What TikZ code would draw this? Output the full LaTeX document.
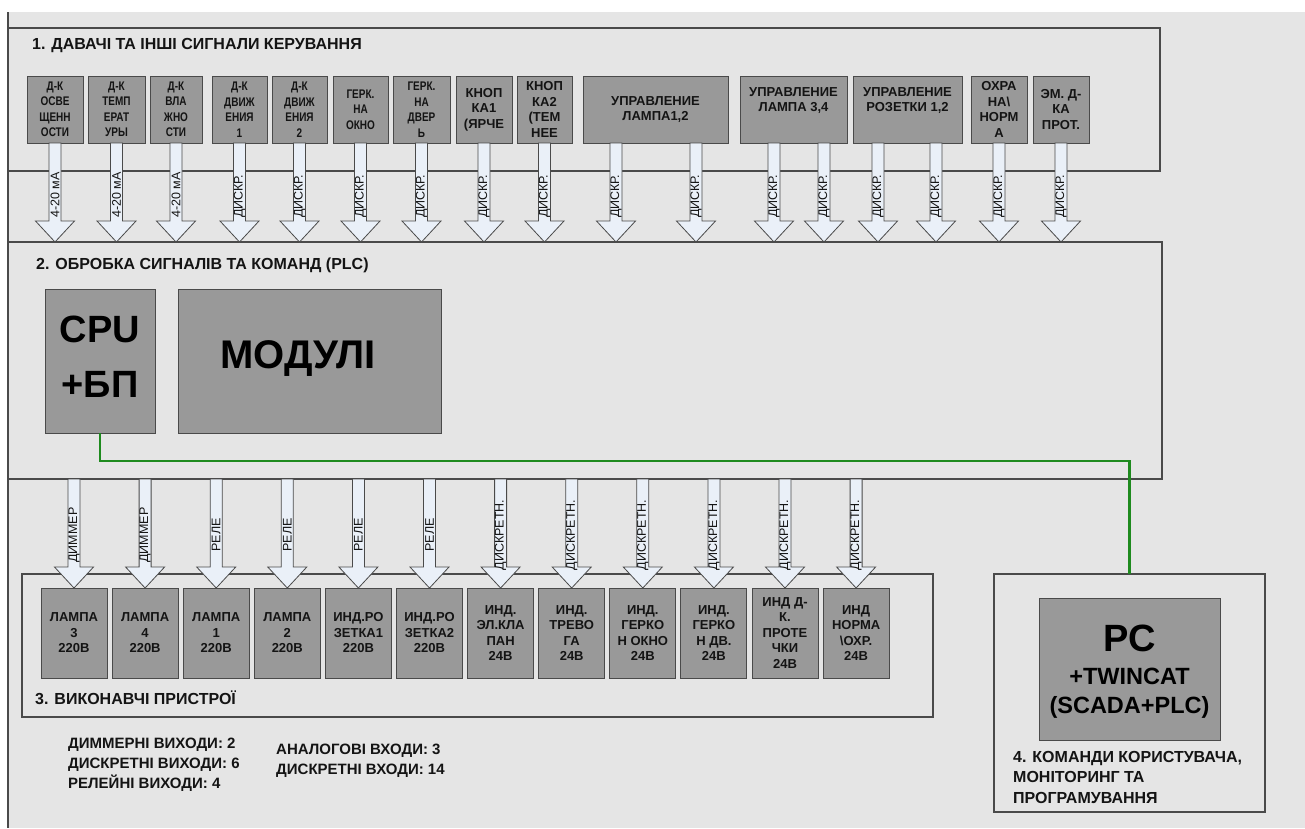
\documentclass[tikz,border=0pt]{standalone}
\usepackage{fontspec}
\setmainfont{Liberation Sans}
\newfontfamily\condf[FakeStretch=0.8]{Liberation Sans}
\usetikzlibrary{calc}
\definecolor{bg}{HTML}{E5E5E5}
\definecolor{boxfill}{HTML}{999999}
\definecolor{edge}{HTML}{4A4A4A}
\definecolor{arrfill}{HTML}{EAF0F8}
\definecolor{wire}{HTML}{1E8A1E}
\definecolor{txt}{HTML}{141414}
\tikzset{
  sect/.style={draw=edge, line width=1.5pt, inner sep=0pt, outer sep=0pt},
  tbox/.style={draw=edge, fill=boxfill, line width=1pt, inner sep=0pt, outer sep=0pt, align=center, text=txt, minimum height=67},
  tcond/.style={tbox, font=\condf\bfseries\fontsize{12.5}{15.5}\selectfont},
  twide/.style={tbox, font=\bfseries\fontsize{13}{15.5}\selectfont},
  bbox/.style={draw=edge, fill=boxfill, line width=1pt, inner sep=0pt, outer sep=0pt, align=center, text=txt, minimum width=66, minimum height=90, font=\bfseries\fontsize{13}{15.5}\selectfont},
  bigbox/.style={draw=edge, fill=boxfill, line width=1pt, inner sep=0pt, outer sep=0pt, align=center, text=black},
  blk/.style={draw=edge, fill=arrfill, line width=0.8pt, line join=miter},
  alab/.style={rotate=90, inner sep=0pt, text=txt, font=\fontsize{12.5}{14}\selectfont},
  ttl/.style={anchor=west, inner sep=0pt, text=txt, font=\bfseries\fontsize{16}{20.5}\selectfont, align=left},
  info/.style={anchor=west, inner sep=0pt, text=txt, font=\bfseries\fontsize{15}{20}\selectfont, align=left},
  bigtxt/.style={inner sep=0pt, text=black, align=center},
  wireline/.style={draw=wire, line width=2.6pt}
}
\newcommand\blkarrow[2]{%
  \filldraw[blk] let \p1=(#1), \p2=(#2) in
   (\x1-6pt,\y1) -- (\x1+6pt,\y1) -- (\x1+6pt,\y2+21pt) -- (\x1+19.5pt,\y2+21pt)
   -- (\x1,\y2) -- (\x1-19.5pt,\y2+21pt) -- (\x1-6pt,\y2+21pt) -- cycle;}
\begin{document}
\begin{tikzpicture}[x=1pt,y=-1pt]
\useasboundingbox (0,0) rectangle (1305,828);
\fill[white] (0,0) rectangle (1305,828);
\fill[bg] (8,12) rectangle (1305,828);
\draw[edge, line width=1.5pt] (8,12) -- (8,828);

% sections
\node[sect, anchor=north west, minimum width=1152, minimum height=143] (s1) at (8,28) {};
\node[sect, anchor=north west, minimum width=1154, minimum height=237] (s2) at (8,242) {};
\node[sect, anchor=north west, minimum width=911, minimum height=143] (s3) at (22,574) {};
\node[sect, anchor=north west, minimum width=271, minimum height=238] (s4) at (994,574) {};

\node[ttl] (t1ttl) at (32,46) {1. ДАВАЧІ ТА ІНШІ СИГНАЛИ КЕРУВАННЯ};
\node[ttl] (t2ttl) at (36,265) {2. ОБРОБКА СИГНАЛІВ ТА КОМАНД (PLC)};
\node[ttl] (t3ttl) at (35,698) {3. ВИКОНАВЧІ ПРИСТРОЇ};
\node[ttl] (t4ttl) at (1013,777) {4. КОМАНДИ КОРИСТУВАЧА,\\МОНІТОРИНГ ТА\\ПРОГРАМУВАННЯ};

% top boxes
\node[tcond, minimum width=56] (t1) at (55,109.5) {Д-К\\ОСВЕ\\ЩЕНН\\ОСТИ};
\node[tcond, minimum width=57] (t2) at (116.5,109.5) {Д-К\\ТЕМП\\ЕРАТ\\УРЫ};
\node[tcond, minimum width=52] (t3) at (176,109.5) {Д-К\\ВЛА\\ЖНО\\СТИ};
\node[tcond, minimum width=55] (t4) at (239.5,109.5) {Д-К\\ДВИЖ\\ЕНИЯ\\1};
\node[tcond, minimum width=55] (t5) at (299.5,109.5) {Д-К\\ДВИЖ\\ЕНИЯ\\2};
\node[tcond, minimum width=55] (t6) at (360.5,109.5) {ГЕРК.\\НА\\ОКНО};
\node[tcond, minimum width=57] (t7) at (421.5,109.5) {ГЕРК.\\НА\\ДВЕР\\Ь};
\node[twide, minimum width=56] (t8) at (484,109.5) {КНОП\\КА1\\(ЯРЧЕ};
\node[twide, minimum width=55] (t9) at (544.5,109.5) {КНОП\\КА2\\(ТЕМ\\НЕЕ};
\node[twide, minimum width=145] (t10) at (655.5,109.5) {УПРАВЛЕНИЕ\\ЛАМПА1,2};
\node[twide, minimum width=107] (t11) at (793.5,109.5) {УПРАВЛЕНИЕ\\ЛАМПА 3,4\\\strut};
\node[twide, minimum width=109] (t12) at (907.5,109.5) {УПРАВЛЕНИЕ\\РОЗЕТКИ 1,2\\\strut};
\node[twide, minimum width=56] (t13) at (999,109.5) {ОХРА\\НА\textbackslash\\НОРМ\\А};
\node[twide, minimum width=56] (t14) at (1061,109.5) {ЭМ. Д-\\КА\\ПРОТ.};

% top arrow start points
\coordinate (a1) at (t1.south);
\coordinate (a2) at (t2.south);
\coordinate (a3) at (t3.south);
\coordinate (a4) at (t4.south);
\coordinate (a5) at (t5.south);
\coordinate (a6) at (t6.south);
\coordinate (a7) at (t7.south);
\coordinate (a8) at (t8.south);
\coordinate (a9) at (t9.south);
\coordinate (a10) at ([xshift=-39.5pt]t10.south);
\coordinate (a11) at ([xshift=40.5pt]t10.south);
\coordinate (a12) at ([xshift=-19.5pt]t11.south);
\coordinate (a13) at ([xshift=30.5pt]t11.south);
\coordinate (a14) at ([xshift=-29.5pt]t12.south);
\coordinate (a15) at ([xshift=28.5pt]t12.south);
\coordinate (a16) at (t13.south);
\coordinate (a17) at (t14.south);
\coordinate (lyt) at (0,218);
\foreach \i/\l in {1/4-20 мА,2/4-20 мА,3/4-20 мА,4/ДИСКР.,5/ДИСКР.,6/ДИСКР.,7/ДИСКР.,8/ДИСКР.,9/ДИСКР.,10/ДИСКР.,11/ДИСКР.,12/ДИСКР.,13/ДИСКР.,14/ДИСКР.,15/ДИСКР.,16/ДИСКР.,17/ДИСКР.}{
  \blkarrow{a\i}{a\i |- s2.north}
  \node[alab, anchor=west] (lt\i) at (a\i |- lyt) {\l};
}

% PLC
\node[bigbox, minimum width=110, minimum height=144] (cpu) at (100,361) {};
\node[bigtxt, font=\bfseries\fontsize{38}{55}\selectfont] (cput) at (100,357) {CPU\\+БП};
\node[bigbox, minimum width=263, minimum height=144] (mod) at (309.5,361) {};
\node[bigtxt, font=\bfseries\fontsize{40}{48}\selectfont] (modt) at (298,359) {МОДУЛІ};

% bottom boxes
\foreach \i/\t in {1/{ЛАМПА\\3\\220В},2/{ЛАМПА\\4\\220В},3/{ЛАМПА\\1\\220В},4/{ЛАМПА\\2\\220В},5/{ИНД.РО\\ЗЕТКА1\\220В},6/{ИНД.РО\\ЗЕТКА2\\220В},7/{ИНД.\\ЭЛ.КЛА\\ПАН\\24В},8/{ИНД.\\ТРЕВО\\ГА\\24В},9/{ИНД.\\ГЕРКО\\Н ОКНО\\24В},10/{ИНД.\\ГЕРКО\\Н ДВ.\\24В},11/{ИНД Д-\\К.\\ПРОТЕ\\ЧКИ\\24В},12/{ИНД\\НОРМА\\\textbackslash ОХР.\\24В}}{
  \node[bbox] (b\i) at ({74+71.1*(\i-1)},633) {\t};
}
\coordinate (lyb) at (0,535);
\foreach \i/\l in {1/ДИММЕР,2/ДИММЕР,3/РЕЛЕ,4/РЕЛЕ,5/РЕЛЕ,6/РЕЛЕ,7/ДИСКРЕТН.,8/ДИСКРЕТН.,9/ДИСКРЕТН.,10/ДИСКРЕТН.,11/ДИСКРЕТН.,12/ДИСКРЕТН.}{
  \blkarrow{b\i.north |- s2.south}{b\i.north}
  \node[alab] (lb\i) at (b\i.north |- lyb) {\l};
}

% PC
\node[bigbox, minimum width=181, minimum height=142] (pc) at (1129.5,669) {};
\node[bigtxt, font=\bfseries\fontsize{38}{40}\selectfont] (pct) at (1129.5,638) {PC};
\node[bigtxt, font=\bfseries\fontsize{23.5}{29.5}\selectfont] (pct2) at (1129.5,693) {+TWINCAT\\(SCADA+PLC)};

% wire
\draw[wireline] (cpu.south) -- ++(0,28) -| (s4.north);

% info text
\node[info] (inf1) at (68,765) {ДИММЕРНІ ВИХОДИ: 2\\ДИСКРЕТНІ ВИХОДИ: 6\\РЕЛЕЙНІ ВИХОДИ: 4};
\node[info] (inf2) at (276,761) {АНАЛОГОВІ ВХОДИ: 3\\ДИСКРЕТНІ ВХОДИ: 14};
\end{tikzpicture}
\end{document}
